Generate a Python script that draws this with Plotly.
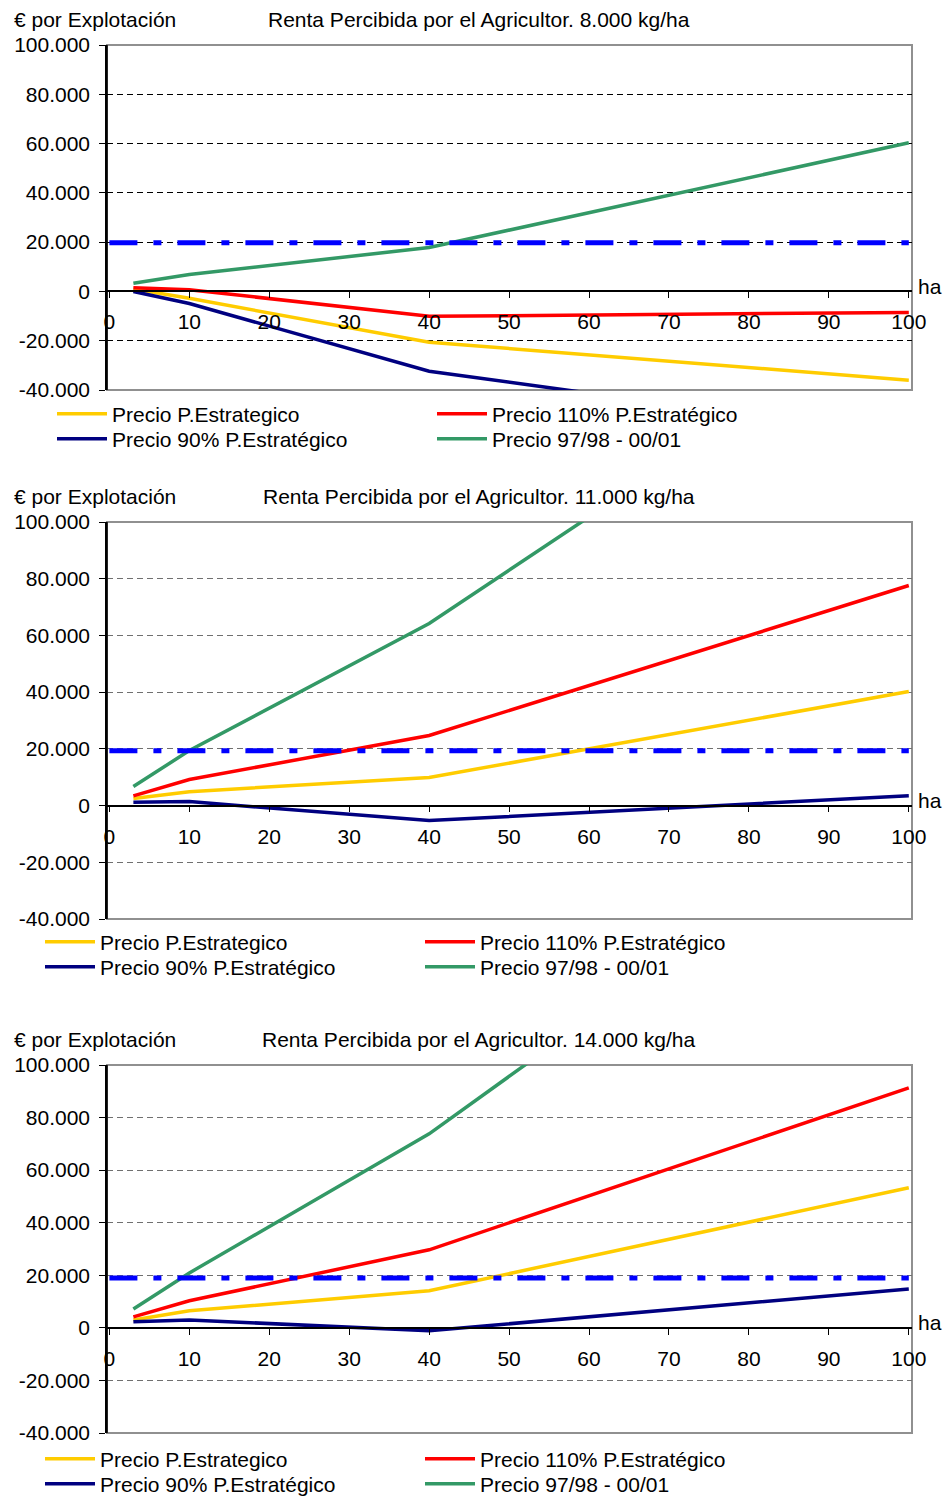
import plotly.graph_objects as go

# ---------------- data ----------------
x_ha = [3, 10, 40, 100]

series_names = [
    "Precio P.Estrategico",
    "Precio 110% P.Estratégico",
    "Precio 90% P.Estratégico",
    "Precio 97/98 - 00/01",
]
series_colors = ["#FFCC00", "#FF0000", "#000080", "#339966"]

panel_titles = [
    "Renta Percibida por el Agricultor. 8.000 kg/ha",
    "Renta Percibida por el Agricultor. 11.000 kg/ha",
    "Renta Percibida por el Agricultor. 14.000 kg/ha",
]
y_axis_title = "€ por Explotación"
x_axis_title = "ha"

# 8.000 kg/ha
p8_estrategico = [1000, -2800, -20600, -36000]
p8_110 = [1500, 700, -10100, -8500]
p8_90 = [0, -4900, -32400, -59000]
p8_9798 = [3300, 6900, 17800, 60300]

# 11.000 kg/ha
p11_estrategico = [2500, 4900, 9900, 40200]
p11_110 = [3400, 9200, 24700, 77600]
p11_90 = [1200, 1400, -5300, 3500]
p11_9798 = [6700, 19400, 64200, 177000]

# 14.000 kg/ha
p14_estrategico = [3000, 6500, 14100, 53300]
p14_110 = [4200, 10300, 29700, 91300]
p14_90 = [2300, 3000, -1100, 14800]
p14_9798 = [7200, 20900, 73800, 205000]

# reference income line (dash-dot) per panel
umbral_x = [0, 100]
umbral = [19800, 19300, 19000]

y_tick_vals = [-40000, -20000, 0, 20000, 40000, 60000, 80000, 100000]
y_tick_text = ["-40.000", "-20.000", "0", "20.000", "40.000", "60.000", "80.000", "100.000"]
x_tick_vals = [0, 10, 20, 30, 40, 50, 60, 70, 80, 90, 100]
x_tick_text = ["0", "10", "20", "30", "40", "50", "60", "70", "80", "90", "100"]

panels = [
    [p8_estrategico, p8_110, p8_90, p8_9798],
    [p11_estrategico, p11_110, p11_90, p11_9798],
    [p14_estrategico, p14_110, p14_90, p14_9798],
]

# ---------------- layout geometry (page pixels) ----------------
W, H = 946, 1497


def px(x):
    return x / W


def py(y):
    return 1 - y / H


FONT = "Liberation Sans, Arial, sans-serif"
FS = 21
x_left_px, x_right_px = 107, 912
panel_px = [(45, 390), (522, 919), (1065, 1433)]  # top, bottom of plot areas
legend_x_px = [52, 40, 40]
legend_rows_px = [(414, 439), (942, 967), (1459, 1484)]
grid_colors = ["#000000", "#707070", "#707070"]
y_range = [-40000, 100000]
x_range = [-0.3, 100.4]
row_of_series = [0, 0, 1, 1]

fig = go.Figure()

for i, series in enumerate(panels):
    sfx = "" if i == 0 else str(i + 1)
    xa, ya = "x" + sfx, "y" + sfx
    legs = []
    for r in range(2):
        n = 2 * i + r + 1
        legs.append("legend" if n == 1 else "legend" + str(n))
    for k, (name, color, vals) in enumerate(zip(series_names, series_colors, series)):
        fig.add_trace(go.Scatter(
            x=x_ha, y=vals, mode="lines", name=name,
            line=dict(color=color, width=3.5),
            xaxis=xa, yaxis=ya, legend=legs[row_of_series[k]], showlegend=True,
            hoverinfo="skip",
        ))
    fig.add_trace(go.Scatter(
        x=umbral_x, y=[umbral[i], umbral[i]], mode="lines",
        line=dict(color="#0000FF", width=5, dash="28px,16px,8px,16px"),
        xaxis=xa, yaxis=ya, showlegend=False, hoverinfo="skip",
    ))

    top_px, bot_px = panel_px[i]
    y0 = py(bot_px)
    y1 = py(top_px)
    zero_pos = y0 + (y1 - y0) * (0 - y_range[0]) / (y_range[1] - y_range[0])

    fig.layout["xaxis" + sfx] = dict(
        domain=[px(x_left_px), px(x_right_px)], range=x_range,
        anchor="free", position=zero_pos,
        showline=True, linecolor="#000000", linewidth=1.5,
        ticks="outside", ticklen=6, tickcolor="#000000", tickwidth=1,
        tickvals=x_tick_vals, ticktext=x_tick_text, ticklabelstandoff=6,
        showgrid=False, zeroline=False,
        tickfont=dict(family=FONT, size=FS, color="#000000"),
    )
    fig.layout["yaxis" + sfx] = dict(
        domain=[y0, y1], range=y_range, anchor=xa,
        showline=True, linecolor="#000000", linewidth=1.5,
        ticks="outside", ticklen=6, tickcolor="#000000", tickwidth=1,
        tickvals=y_tick_vals, ticktext=y_tick_text, ticklabelstandoff=5,
        showgrid=True, gridcolor=grid_colors[i], gridwidth=1, griddash="6px,4px",
        zeroline=False,
        tickfont=dict(family=FONT, size=FS, color="#000000"),
    )
    for r in range(2):
        fig.layout[legs[r]] = dict(
            orientation="h", x=px(legend_x_px[i]), xanchor="left",
            y=py(legend_rows_px[i][r]), yanchor="middle",
            entrywidth=315, entrywidthmode="pixels",
            font=dict(family=FONT, size=FS, color="#000000"),
            bgcolor="rgba(0,0,0,0)", borderwidth=0, tracegroupgap=0,
            itemwidth=50,
        )
    # gray plot-area border (top, right, bottom)
    fig.add_shape(type="rect", xref=xa + " domain", yref=ya + " domain",
                  x0=0, x1=1, y0=0, y1=1, line=dict(color="#909090", width=2),
                  layer="below")
    # redraw black left axis line above border
    fig.add_shape(type="line", xref=xa + " domain", yref=ya + " domain",
                  x0=0, x1=0, y0=0, y1=1, line=dict(color="#000000", width=1.5))
    # titles
    fig.add_annotation(text=y_axis_title, xref="paper", yref=ya + " domain",
                       x=px(12), y=1, xanchor="left", yanchor="middle",
                       yshift=26, showarrow=False,
                       font=dict(family=FONT, size=FS, color="#000000"))
    fig.add_annotation(text=panel_titles[i], xref="paper", yref=ya + " domain",
                       x=px(479), y=1, xanchor="center", yanchor="middle",
                       yshift=26, showarrow=False,
                       font=dict(family=FONT, size=FS, color="#000000"))
    fig.add_annotation(text=x_axis_title, xref="paper", yref=ya,
                       x=px(916), y=0, xanchor="left", yanchor="middle",
                       yshift=5, showarrow=False,
                       font=dict(family=FONT, size=FS, color="#000000"))

fig.update_layout(
    width=W, height=H,
    margin=dict(l=0, r=0, t=0, b=0, autoexpand=False),
    paper_bgcolor="#FFFFFF", plot_bgcolor="#FFFFFF",
    font=dict(family=FONT, size=FS, color="#000000"),
)

fig.write_html("out.html", config={"displayModeBar": False},
               post_script="document.body.style.margin='0px';")
